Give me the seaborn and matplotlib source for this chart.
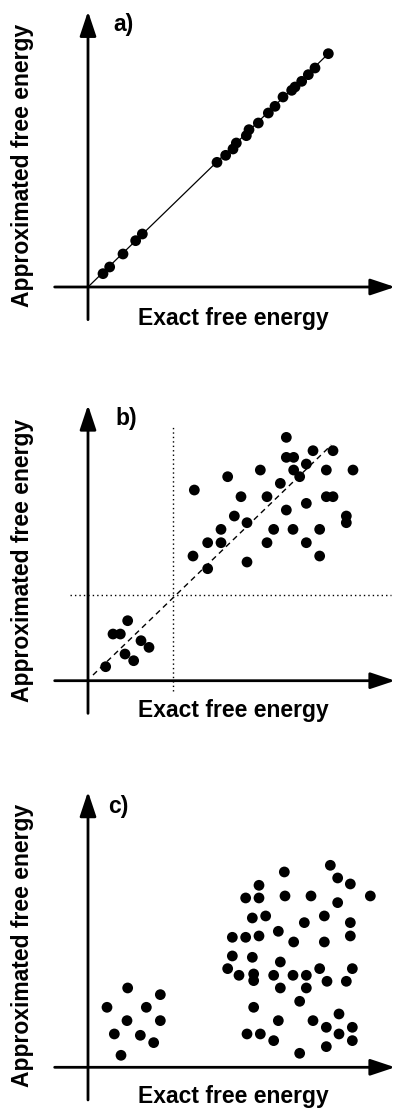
import matplotlib
matplotlib.use("Agg")
import matplotlib.pyplot as plt
import seaborn as sns
import numpy as np

sns.set_theme(style="white")
plt.rcParams['font.family'] = ['Liberation Sans', 'DejaVu Sans']
plt.rcParams['text.color'] = 'black'

# ---------------- data (arbitrary units) ----------------
# panel a: near-perfect correlation
a_x = [45, 65, 105, 143, 163, 387, 413, 435, 445, 475, 483, 511, 541, 561, 585, 611, 621, 641, 661, 681, 721]
a_y = [40, 60, 99, 139, 159, 374, 395, 414, 432, 454, 472, 492, 522, 542, 570, 590, 600, 617, 637, 657, 700]
a_line_x = [0, 721]
a_line_y = [0, 700]

# panel b: noisy correlation with threshold lines
b_x = [53, 75, 97, 119, 111, 137, 159, 183,
       319, 315, 359, 359, 399, 399, 419, 439, 459, 477, 477, 517, 537, 537, 557, 577,
       595, 595, 617, 617, 595, 615, 635, 655, 675, 655, 655, 695, 695, 715, 715, 735,
       735, 775, 775, 795]
b_y = [42, 140, 140, 180, 80, 60, 120, 100,
       572, 374, 414, 336, 454, 414, 612, 494, 552, 474, 356, 632, 552, 414, 454, 592,
       730, 670, 670, 632, 512, 454, 612, 650, 690, 532, 414, 454, 374, 632, 552, 552,
       690, 494, 474, 632]
b_line_x = [15, 730]
b_line_y = [17, 707]
b_thresh_x = 255
b_thresh_y = 257

# panel c: no correlation
c_x = [119, 57, 175, 217, 117, 217, 79, 157, 197, 99,
       727, 589, 749, 787, 513, 473, 513, 591, 669, 847, 749, 493, 533, 709, 649, 787,
       571, 433, 473, 513, 617, 709, 787, 433, 493, 577, 419, 453, 497, 497, 557, 615,
       655, 695, 793, 717, 775, 577, 655, 635, 497, 571, 675, 753, 715, 793, 477, 517,
       557, 753, 793, 715, 635]
c_y = [238, 180, 180, 218, 140, 140, 100, 96, 74, 36,
       606, 586, 568, 550, 546, 508, 508, 514, 514, 514, 494, 448, 454, 454, 434, 434,
       408, 390, 390, 394, 376, 376, 394, 334, 330, 316, 296, 276, 280, 260, 276, 276,
       276, 296, 296, 258, 258, 238, 238, 198, 180, 140, 140, 160, 120, 120, 100, 100,
       80, 100, 80, 62, 42]

panel_letters = ["a)", "b)", "c)"]
x_label = "Exact free energy"
y_label = "Approximated free energy"

# ---------------- layout ----------------
W, H = 396, 1112
DPI = 100
fig = plt.figure(figsize=(W / DPI, H / DPI), dpi=DPI)
fig.patch.set_facecolor("white")

ORIGIN_PX = 88
SCALE = 3.0  # data units per pixel
FS = 16.5

panels = [
    dict(top=0, bottom=345, oy=287.0, x=a_x, y=a_y, ylab=165, xlab=319, let=(123, 25)),
    dict(top=345, bottom=728, oy=680.7, x=b_x, y=b_y, ylab=560, xlab=711, let=(126, 419)),
    dict(top=728, bottom=1112, oy=1067.3, x=c_x, y=c_y, ylab=945, xlab=1097, let=(118, 806)),
]

def fx(px):
    return px / W

def fy(py):
    return 1 - py / H

for i, p in enumerate(panels):
    ax = fig.add_axes([0, fy(p["bottom"]), 1, (p["bottom"] - p["top"]) / H])
    ax.set_xlim((0 - ORIGIN_PX) * SCALE, (W - ORIGIN_PX) * SCALE)
    ax.set_ylim((p["oy"] - p["bottom"]) * SCALE, (p["oy"] - p["top"]) * SCALE)
    ax.set_axis_off()

    # axes with arrows
    arrow = dict(arrowstyle="-|>,head_length=1.5,head_width=0.5", lw=2.0, color="black",
                 shrinkA=0, shrinkB=0, mutation_scale=10)
    ax.annotate("", xy=(921, 0), xytext=(-100, 0), arrowprops=arrow)
    ax.annotate("", xy=(0, 827), xytext=(0, -98), arrowprops=arrow)

    if i == 0:
        ax.plot(a_line_x, a_line_y, color="black", lw=0.9, zorder=2)
    if i == 1:
        ax.plot(b_line_x, b_line_y, color="black", lw=1.0, linestyle=(0, (4, 3)), zorder=2)
        ax.plot([b_thresh_x, b_thresh_x], [-30, 767], color="black", lw=1.0,
                linestyle=(0, (1, 2.2)), zorder=2)
        ax.plot([-55, 910], [b_thresh_y, b_thresh_y], color="black", lw=1.0,
                linestyle=(0, (1, 2.2)), zorder=2)

    sns.scatterplot(x=p["x"], y=p["y"], ax=ax, color="black", s=60,
                    edgecolor="none", linewidth=0, zorder=3)

    fig.text(fx(233), fy(p["xlab"]), x_label, ha="center", va="center",
             fontsize=FS, fontweight="bold", color="black")
    fig.text(fx(23), fy(p["ylab"]), y_label, ha="center", va="center",
             rotation=90, fontsize=FS, fontweight="bold", color="black")
    fig.text(fx(p["let"][0]), fy(p["let"][1]), panel_letters[i], ha="center", va="center",
             fontsize=FS, fontweight="bold", color="black")

fig.savefig("out.png", dpi=DPI, facecolor="white")
